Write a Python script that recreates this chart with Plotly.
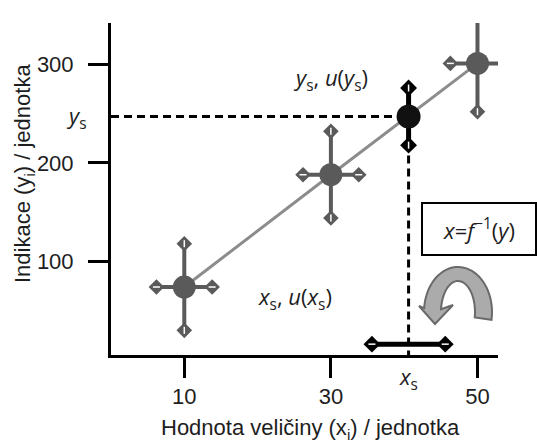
import numpy as np
import plotly.graph_objects as go

# ---------------- data ----------------
x_cal = [10, 30, 50]          # calibration standards (x_i)
y_cal = [74, 188, 301]        # indications (y_i)
ux_cal = [3.8, 3.8, 3.7]      # u(x_i)
uy_cal = [44, 44, 49]         # u(y_i)

x_s = 40.6                    # evaluated value x_s
y_s = 247                     # measured indication y_s
u_xs = 5.0                    # u(x_s)
u_ys = 29                     # u(y_s)

x_ticks = [10, 30, 50]
y_ticks = [100, 200, 300]

# ---------------- layout constants ----------------
W, H = 537, 443
ML, MR, MT, MB = 111, 39, 23, 88
PW, PH = W - ML - MR, H - MT - MB
X_RANGE = [0, 52.8]
Y_RANGE = [5, 342]
XS_BAR_Y = 16                 # height of the u(x_s) bar above the x axis

GRAY = "#5a5a5a"
LINE_GRAY = "#8c8c8c"
TXT = "#1e1e1e"
TICK_FONT = dict(family="Liberation Sans, Arial, sans-serif", size=22, color=TXT)
ITAL_FONT = dict(family="Open Sans, Lato, sans-serif", size=22, color=TXT)


def px2paper(px, py):
    return (px - ML) / PW, (MT + PH - py) / PH


fig = go.Figure()

# calibration line
fig.add_trace(go.Scatter(x=x_cal, y=y_cal, mode="lines",
                         line=dict(color=LINE_GRAY, width=3), hoverinfo="skip"))

# dashed guide lines
fig.add_trace(go.Scatter(x=[X_RANGE[0], x_s], y=[y_s, y_s], mode="lines",
                         line=dict(color="black", width=3, dash="8px,5px"), hoverinfo="skip"))
fig.add_trace(go.Scatter(x=[x_s, x_s], y=[y_s, Y_RANGE[0]], mode="lines",
                         line=dict(color="black", width=3, dash="8px,5px"), hoverinfo="skip"))


def caps(xs, ys, color, size):
    """diamond caps with a small white streak along the bar direction"""
    fig.add_trace(go.Scatter(x=xs, y=ys, mode="markers",
                             marker=dict(symbol="diamond", size=size, color=color,
                                         line=dict(width=0)), hoverinfo="skip"))


def streaks(xs, ys, symbol):
    fig.add_trace(go.Scatter(x=xs, y=ys, mode="markers",
                             marker=dict(symbol=symbol, size=5,
                                         line=dict(width=1.5, color="white")),
                             hoverinfo="skip"))


# error bars for calibration points
ex, ey = [], []
vx, vy, hx, hy = [], [], [], []
for xi, yi, ux, uy in zip(x_cal, y_cal, ux_cal, uy_cal):
    ex += [xi, xi, None, xi - ux, xi + ux, None]
    ey += [yi - uy, yi + uy, None, yi, yi, None]
    vx += [xi, xi]
    vy += [yi - uy, yi + uy]
    hx += [xi - ux, xi + ux]
    hy += [yi, yi]
fig.add_trace(go.Scatter(x=ex, y=ey, mode="lines", line=dict(color=GRAY, width=4),
                         hoverinfo="skip"))
caps(vx + hx, vy + hy, GRAY, 12)
streaks(vx, vy, "line-ns")
streaks(hx, hy, "line-ew")

# error bars for the unknown (black)
bx = [x_s, x_s, None, x_s - u_xs, x_s + u_xs]
by = [y_s - u_ys, y_s + u_ys, None, XS_BAR_Y, XS_BAR_Y]
fig.add_trace(go.Scatter(x=bx, y=by, mode="lines", line=dict(color="black", width=5),
                         hoverinfo="skip"))
caps([x_s, x_s, x_s - u_xs, x_s + u_xs], [y_s - u_ys, y_s + u_ys, XS_BAR_Y, XS_BAR_Y],
     "black", 13)
streaks([x_s, x_s], [y_s - u_ys, y_s + u_ys], "line-ns")
streaks([x_s - u_xs, x_s + u_xs], [XS_BAR_Y, XS_BAR_Y], "line-ew")

# points
fig.add_trace(go.Scatter(x=x_cal, y=y_cal, mode="markers",
                         marker=dict(size=23, color=GRAY), hoverinfo="skip"))
fig.add_trace(go.Scatter(x=[x_s], y=[y_s], mode="markers",
                         marker=dict(size=24, color="#111111"), hoverinfo="skip"))

# curved arrow (decoration) built in pixel space then converted to paper
cxp, cyp = 458, 312
t = np.radians(np.linspace(-10, 175, 40))
outer = [(cxp + 34 * np.cos(a), cyp - 45 * np.sin(a)) for a in t]
inner = [(cxp + 17 * np.cos(a), cyp - 31 * np.sin(a)) for a in t[::-1]]
head = [(419, 306), (435, 324), (453, 305)]
poly = outer + [head[0], head[1], head[2]] + inner
pts = [px2paper(p[0], p[1]) for p in poly]
path = "M " + " L ".join(f"{a:.4f},{b:.4f}" for a, b in pts) + " Z"
fig.add_shape(type="path", path=path, xref="paper", yref="paper",
              fillcolor="#ababab", line=dict(color="#6a6a6a", width=2))

ann = []
# y_s label on the axis
ann.append(dict(text="<i>y</i><sub>s</sub>", xref="paper", yref="y",
                x=px2paper(88, 0)[0], y=y_s, xanchor="right", yanchor="middle",
                showarrow=False, font=ITAL_FONT))
# x_s label below the axis
ann.append(dict(text="<i>x</i><sub>s</sub>", xref="x", yref="paper",
                x=x_s, y=px2paper(0, 378)[1], xanchor="center", yanchor="middle",
                showarrow=False, font=ITAL_FONT))
ann.append(dict(text="<i>y</i><sub>s</sub>, <i>u</i>(<i>y</i><sub>s</sub>)",
                xref="paper", yref="paper", x=px2paper(291, 0)[0], y=px2paper(0, 79)[1],
                xanchor="left", yanchor="middle", showarrow=False, font=ITAL_FONT))
ann.append(dict(text="<i>x</i><sub>s</sub>, <i>u</i>(<i>x</i><sub>s</sub>)",
                xref="paper", yref="paper", x=px2paper(256, 0)[0], y=px2paper(0, 298)[1],
                xanchor="left", yanchor="middle", showarrow=False, font=ITAL_FONT))
# boxed inverse function
ann.append(dict(text="<i>x</i>=<i>f</i><sup>−1</sup>(<i>y</i>)",
                xref="paper", yref="paper", x=px2paper(479, 0)[0], y=px2paper(0, 229)[1],
                xanchor="center", yanchor="middle", showarrow=False, font=ITAL_FONT,
                bordercolor="black", borderwidth=2, borderpad=2, bgcolor="white",
                width=108, height=46))
# axis titles
ann.append(dict(text="Hodnota veličiny (x<sub>i</sub>) / jednotka",
                xref="paper", yref="paper", x=px2paper(310, 0)[0], y=px2paper(0, 429)[1],
                xanchor="center", yanchor="middle", showarrow=False, font=TICK_FONT))
ann.append(dict(text="Indikace (y<sub>i</sub>) / jednotka", textangle=-90,
                xref="paper", yref="paper", x=px2paper(24, 0)[0], y=px2paper(0, 174)[1],
                xanchor="center", yanchor="middle", showarrow=False, font=TICK_FONT))

fig.update_layout(
    width=W, height=H,
    margin=dict(l=ML, r=MR, t=MT, b=MB),
    paper_bgcolor="white", plot_bgcolor="white",
    showlegend=False,
    annotations=ann,
    xaxis=dict(range=X_RANGE, tickvals=x_ticks, ticktext=[str(v) for v in x_ticks],
               showgrid=False, zeroline=False, showline=True, linecolor="black",
               linewidth=3, ticks="outside", ticklen=20, tickwidth=3, tickcolor="black",
               tickfont=TICK_FONT),
    yaxis=dict(range=Y_RANGE, tickvals=y_ticks, ticktext=[str(v) for v in y_ticks],
               showgrid=False, zeroline=False, showline=True, linecolor="black",
               linewidth=3, ticks="outside", ticklen=20, tickwidth=3, tickcolor="black",
               tickfont=TICK_FONT, ticklabelstandoff=10),
)

fig.write_html("out.html", config={"displayModeBar": False},
               post_script="document.body.style.margin='0';document.body.style.overflow='hidden';")
